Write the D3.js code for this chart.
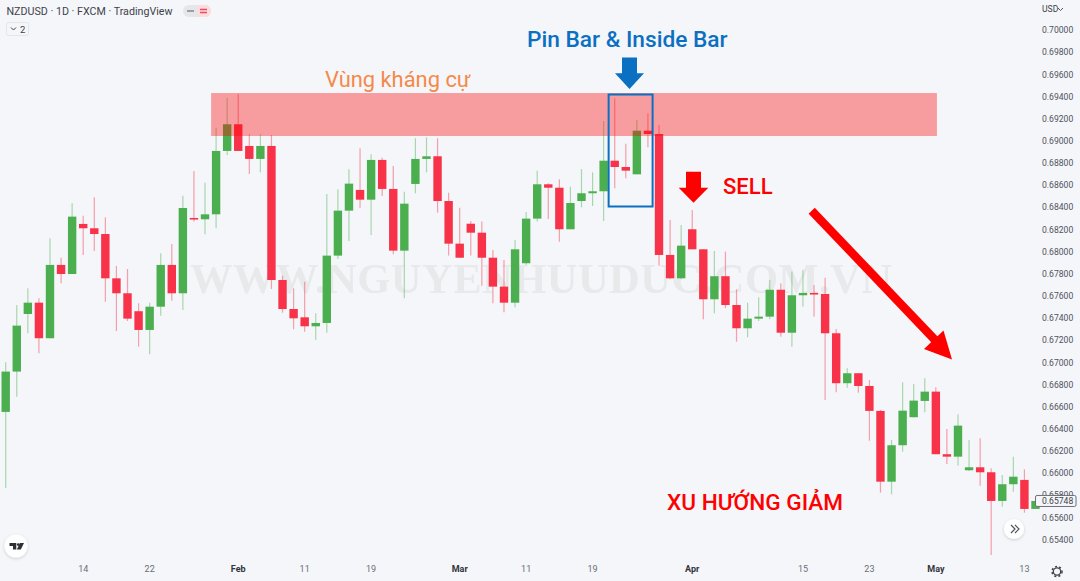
<!DOCTYPE html>
<html>
<head>
<meta charset="utf-8">
<script src="https://cdn.jsdelivr.net/npm/d3@7"></script>
<style>
html, body { margin: 0; padding: 0; background: #f4f6f9; overflow: hidden; }
svg { display: block; }
</style>
</head>
<body>
<div id="chart"></div>
<script>
// daily candles
var opens = [0.66552,0.66916,0.67436,0.67538,0.67217,0.67879,0.67797,0.68249,0.68210,0.68158,
    0.67758,0.67623,0.67461,0.67292,0.67502,0.67879,0.67623,0.68303,0.68291,0.68336,
    0.68908,0.69149,0.68953,0.68836,0.68953,0.67743,0.67481,0.67406,0.67325,0.67355,
    0.67963,0.68369,0.68556,0.68468,0.68827,0.68565,0.68008,0.68610,0.68836,0.68860,
    0.68456,0.68071,0.68251,0.68170,0.67944,0.67683,0.67538,0.67894,0.68297,0.68607,
    0.68576,0.68201,0.68456,0.68526,0.68544,0.68820,0.68763,0.68697,0.69091,0.69061,
    0.67969,0.67758,0.68201,0.68020,0.67569,0.67777,0.67517,0.67307,0.67394,0.67412,
    0.67655,0.67267,0.67605,0.67626,0.67617,0.67262,0.66811,0.66901,0.66786,0.66561,
    0.65922,0.66251,0.66504,0.66651,0.66735,0.66170,0.66148,0.66025,0.66052,0.66007,
    0.65748,0.65899,0.65938,0.65676];
var highs = [0.67001,0.67517,0.67668,0.67578,0.68120,0.67944,0.68436,0.68324,0.68490,0.68309,
    0.67870,0.67842,0.67533,0.67538,0.67984,0.68068,0.68504,0.68727,0.68622,0.69118,
    0.69389,0.69422,0.69059,0.69059,0.69052,0.67782,0.67668,0.67728,0.67443,0.68520,
    0.68562,0.68743,0.68932,0.68878,0.68847,0.68772,0.68540,0.69022,0.69031,0.69022,
    0.68531,0.68396,0.68276,0.68270,0.68014,0.67924,0.68104,0.68357,0.68730,0.68616,
    0.68652,0.68585,0.68745,0.68715,0.69179,0.69384,0.68974,0.69188,0.69248,0.69142,
    0.68285,0.68240,0.68375,0.68020,0.68005,0.67999,0.67659,0.67538,0.67587,0.67743,
    0.67713,0.67818,0.67833,0.67698,0.67764,0.67301,0.66946,0.66901,0.66840,0.66570,
    0.66299,0.66820,0.66804,0.66856,0.66774,0.66398,0.66531,0.66299,0.66314,0.66043,
    0.65983,0.66148,0.66034,0.65748];
var lows = [0.65865,0.66689,0.67262,0.67081,0.67217,0.67713,0.67797,0.67969,0.68005,0.67547,
    0.67283,0.67373,0.67141,0.67072,0.67421,0.67556,0.67472,0.68270,0.68156,0.68210,
    0.68872,0.68908,0.68700,0.68715,0.67662,0.67448,0.67298,0.67276,0.67201,0.67267,
    0.67933,0.68095,0.68396,0.68149,0.68502,0.67975,0.67578,0.68526,0.68715,0.68351,
    0.67963,0.67944,0.67963,0.67692,0.67533,0.67452,0.67497,0.67879,0.68270,0.68294,
    0.68089,0.68201,0.68399,0.68411,0.68276,0.68571,0.68661,0.68697,0.68941,0.67872,
    0.67749,0.67749,0.68020,0.67388,0.67443,0.67488,0.67186,0.67226,0.67373,0.67388,
    0.67231,0.67141,0.67502,0.67412,0.66660,0.66729,0.66771,0.66726,0.66292,0.65823,
    0.65808,0.66193,0.66504,0.66549,0.66170,0.66082,0.66067,0.66019,0.65886,0.65260,
    0.65696,0.65832,0.65642,0.65676];
var closes = [0.66916,0.67331,0.67538,0.67217,0.67879,0.67797,0.68315,0.68210,0.68158,0.67758,
    0.67623,0.67394,0.67292,0.67502,0.67879,0.67623,0.68393,0.68291,0.68336,0.68908,
    0.69149,0.68908,0.68836,0.68953,0.67743,0.67481,0.67397,0.67325,0.67355,0.67963,
    0.68369,0.68613,0.68468,0.68827,0.68565,0.68008,0.68432,0.68836,0.68860,0.68456,
    0.68071,0.67944,0.68170,0.67944,0.67683,0.67538,0.68020,0.68297,0.68607,0.68576,
    0.68201,0.68438,0.68526,0.68544,0.68820,0.68763,0.68730,0.69091,0.69061,0.67969,
    0.67758,0.68053,0.68020,0.67569,0.67777,0.67517,0.67307,0.67394,0.67412,0.67655,
    0.67267,0.67605,0.67626,0.67617,0.67262,0.66811,0.66901,0.66786,0.66561,0.65922,
    0.66251,0.66563,0.66654,0.66735,0.66170,0.66148,0.66428,0.66052,0.66007,0.65748,
    0.65899,0.65967,0.65676,0.65748];

var priceTicks = [0.700,0.698,0.696,0.694,0.692,0.690,0.688,0.686,0.684,0.682,0.680,0.678,
    0.676,0.674,0.672,0.670,0.668,0.666,0.664,0.662,0.660,0.658,0.656,0.654];
var timeTickIndex = [7,13,21,27,33,41,47,53,62,72,78,84,92];
var timeTickLabels = ["14","22","Feb","11","19","Mar","11","19","Apr","15","23","May","13"];
var monthLabels = ["Feb","Mar","Apr","May"];
var lastPrice = 0.65748;
var zoneHigh = 0.69431, zoneLow = 0.69043;

var width = 1080, height = 581;
var upColor = "#4caf50", downColor = "#f7334a";

var svg = d3.select("#chart").append("svg")
    .attr("width", width)
    .attr("height", height)
    .style("font-family", "Roboto, sans-serif");

svg.append("rect").attr("width", width).attr("height", height).attr("fill", "#f4f6f9");

var defs = svg.append("defs");
var shadow = defs.append("filter").attr("id", "soft").attr("x", "-40%").attr("y", "-40%").attr("width", "180%").attr("height", "180%");
shadow.append("feDropShadow").attr("dx", 0).attr("dy", 1).attr("stdDeviation", 1.5).attr("flood-color", "#000").attr("flood-opacity", 0.18);
var blur = defs.append("filter").attr("id", "blur");
blur.append("feGaussianBlur").attr("stdDeviation", 0.35);

var x = d3.scaleLinear().domain([0, 93]).range([5.7, 1035.5]);
var y = d3.scaleLinear().domain([0.700, 0.654]).range([30, 539.5]);
var barWidth = 8.4;

// watermark sits under the candles
svg.append("text")
    .attr("x", 190)
    .attr("y", 293)
    .attr("textLength", 702)
    .attr("lengthAdjust", "spacing")
    .attr("filter", "url(#blur)")
    .style("font-family", "'Liberation Serif', serif")
    .style("font-weight", "bold")
    .style("font-size", "42.5px")
    .style("fill", "#e8e9eb")
    .text("WWW.NGUYENHUUDUC.COM.VN");

var candles = svg.append("g").attr("filter", "url(#blur)")
    .selectAll(".candle")
    .data(d3.range(opens.length))
    .enter().append("g")
    .attr("class", "candle");

candles.append("line")
    .attr("x1", function (i) { return x(i); })
    .attr("x2", function (i) { return x(i); })
    .attr("y1", function (i) { return y(highs[i]); })
    .attr("y2", function (i) { return y(lows[i]); })
    .attr("stroke", function (i) { return closes[i] >= opens[i] ? upColor : downColor; })
    .attr("stroke-opacity", 0.45)
    .attr("stroke-width", 1.2);

candles.append("rect")
    .attr("x", function (i) { return x(i) - barWidth / 2; })
    .attr("width", barWidth)
    .attr("y", function (i) { return y(Math.max(opens[i], closes[i])); })
    .attr("height", function (i) { return Math.max(1.6, Math.abs(y(opens[i]) - y(closes[i]))); })
    .attr("fill", function (i) { return closes[i] >= opens[i] ? upColor : downColor; });

// resistance zone
svg.append("rect")
    .attr("x", x(18.55))
    .attr("width", x(84.1) - x(18.55))
    .attr("y", y(zoneHigh))
    .attr("height", y(zoneLow) - y(zoneHigh))
    .attr("fill", "rgba(255,0,0,0.36)");

// price axis
var yAxis = d3.axisRight(y)
    .tickValues(priceTicks)
    .tickSize(0)
    .tickPadding(0)
    .tickFormat(d3.format(".5f"));
var yAxisG = svg.append("g").attr("transform", "translate(1042,0)").call(yAxis);
yAxisG.select(".domain").remove();
yAxisG.selectAll("text")
    .style("font-family", "Roboto, sans-serif")
    .style("font-size", "8.6px")
    .style("fill", "#50535e");

svg.append("text").attr("x", 1042).attr("y", 12)
    .style("font-size", "8.6px").style("fill", "#3c3f4a").text("USD");
svg.append("path").attr("d", "M1058 8 l2.5 2.5 l2.5 -2.5")
    .attr("fill", "none").attr("stroke", "#50535e").attr("stroke-width", 1);

// last price box
svg.append("rect")
    .attr("x", 1035.5)
    .attr("y", y(lastPrice) - 5.5)
    .attr("width", 40.5)
    .attr("height", 11)
    .attr("rx", 1.5)
    .attr("fill", "#f4f6f9")
    .attr("stroke", "#6b6e78");
svg.append("text")
    .attr("x", 1042)
    .attr("y", y(lastPrice) + 3.2)
    .style("font-size", "8.6px")
    .style("fill", "#3c3f4a")
    .text(d3.format(".5f")(lastPrice));

// time axis
var xAxis = d3.axisBottom(x)
    .tickValues(timeTickIndex)
    .tickSize(0)
    .tickPadding(0)
    .tickFormat(function (d, i) { return timeTickLabels[i]; });
var xAxisG = svg.append("g").attr("transform", "translate(-0.5,566)").call(xAxis);
xAxisG.select(".domain").remove();
xAxisG.selectAll("text")
    .style("font-family", "Roboto, sans-serif")
    .style("font-size", "9px")
    .style("font-weight", function (d, i) { return monthLabels.indexOf(timeTickLabels[i]) >= 0 ? 700 : 400; })
    .style("fill", function (d, i) { return monthLabels.indexOf(timeTickLabels[i]) >= 0 ? "#33353d" : "#6a6d78"; });

// header
svg.append("text").attr("x", 6.5).attr("y", 15)
    .style("font-size", "10.7px").style("fill", "#3f424c")
    .text("NZDUSD · 1D · FXCM · TradingView");
svg.append("rect").attr("x", 183).attr("y", 5).attr("width", 28).attr("height", 12).attr("rx", 6).attr("fill", "#e4e6ea");
svg.append("path").attr("d", "M197 5 h8 a6 6 0 0 1 0 12 h-8 z").attr("fill", "#fbdde0");
svg.append("path").attr("d", "M187 11 h7").attr("stroke", "#8a8d96").attr("stroke-width", 1.6);
svg.append("path").attr("d", "M200 9.5 h7 M200 12.5 h7").attr("stroke", "#ef4a5c").attr("stroke-width", 1.3);
svg.append("rect").attr("x", 6.5).attr("y", 22.5).attr("width", 22).attr("height", 13).attr("rx", 2)
    .attr("fill", "#f4f6f9").attr("stroke", "#e3e5e9");
svg.append("path").attr("d", "M11 27.5 l2.5 2.5 l2.5 -2.5").attr("fill", "none").attr("stroke", "#3f424c");
svg.append("text").attr("x", 20).attr("y", 32.5).style("font-size", "9.5px").style("fill", "#3f424c").text("2");

// TradingView badge
svg.append("circle").attr("cx", 16).attr("cy", 546).attr("r", 11.5).attr("fill", "#fff").attr("filter", "url(#soft)");
svg.append("path").attr("d", "M9.5 543 h6.8 v6.5 h-3.3 v-3.6 h-3.5 z M16.8 549.5 l3.2 -6.5 h4 l-3.2 6.5 z")
    .attr("fill", "#2f3036");
svg.append("circle").attr("cx", 18.3).attr("cy", 544.6).attr("r", 1.4).attr("fill", "#2f3036");

// scroll button
svg.append("circle").attr("cx", 1014).attr("cy", 529).attr("r", 10).attr("fill", "#fff").attr("filter", "url(#soft)");
svg.append("path").attr("d", "M1011 525 l4 4 l-4 4 M1015 525 l4 4 l-4 4")
    .attr("fill", "none").attr("stroke", "#50535e").attr("stroke-width", 1.2);

// settings gear
svg.append("circle").attr("cx", 1057).attr("cy", 571.5).attr("r", 3.7)
    .attr("fill", "none").attr("stroke", "#3f424c").attr("stroke-width", 1.3);
svg.append("circle").attr("cx", 1057).attr("cy", 571.5).attr("r", 5)
    .attr("fill", "none").attr("stroke", "#3f424c").attr("stroke-width", 1.5).attr("stroke-dasharray", "2 2.2");

// annotations
svg.append("text").attr("x", 527).attr("y", 47)
    .style("font-size", "22.7px").style("font-weight", 500).style("fill", "#0b6fc2")
    .text("Pin Bar & Inside Bar");
svg.append("text").attr("x", 325).attr("y", 87)
    .style("font-size", "21.9px").style("fill", "#f5894a")
    .text("Vùng kháng cự");
svg.append("text").attr("x", 723).attr("y", 194)
    .style("font-size", "22px").style("font-weight", 500).style("fill", "#ff0000")
    .text("SELL");
svg.append("text").attr("x", 667).attr("y", 510)
    .style("font-size", "22.6px").style("font-weight", 500).style("fill", "#ff0000")
    .text("XU HƯỚNG GIẢM");

function downArrow(cx, top, shaftHalf, headY, headHalf, tip, color) {
    svg.append("path")
        .attr("d", "M" + (cx - shaftHalf) + " " + top + " H" + (cx + shaftHalf) + " V" + headY +
            " H" + (cx + headHalf) + " L" + cx + " " + tip + " L" + (cx - headHalf) + " " + headY +
            " H" + (cx - shaftHalf) + " Z")
        .attr("fill", color);
}
downArrow(629.5, 57.5, 7.5, 73.3, 14.5, 89, "#0b6fc2");
downArrow(693.5, 171.7, 7.5, 187.7, 14.8, 202.7, "#ff0000");

// pin bar box
svg.append("rect")
    .attr("x", x(54.45))
    .attr("y", 94.5)
    .attr("width", x(58.42) - x(54.45))
    .attr("height", 112)
    .attr("fill", "none")
    .attr("stroke", "#0b6fc2")
    .attr("stroke-width", 2);

// trend arrow
svg.append("path").attr("d", "M811.7 210.7 L936 341").attr("stroke", "#ff0000").attr("stroke-width", 8.5);
svg.append("path").attr("d", "M952 359.5 L924 349 L943.5 330.5 Z").attr("fill", "#ff0000");
</script>
</body>
</html>
